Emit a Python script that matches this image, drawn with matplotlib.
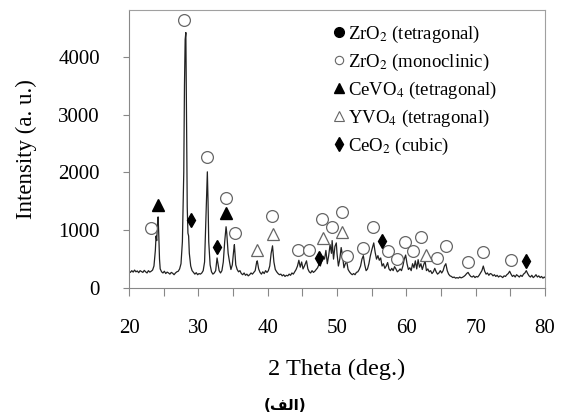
import matplotlib
matplotlib.use('Agg')
import matplotlib.pyplot as plt
from matplotlib.lines import Line2D

plt.rcParams['font.family'] = ['Liberation Serif', 'DejaVu Serif']
plt.rcParams['mathtext.fontset'] = 'stix'

# XRD trace: (2 theta, intensity)
trace = [
    (20.0, 290), (20.2, 270), (20.4, 300), (20.6, 275), (20.8, 310), (21.0, 280),
    (21.2, 295), (21.4, 265), (21.6, 300), (21.8, 285), (22.0, 270), (22.2, 305),
    (22.4, 280), (22.6, 260), (22.8, 300), (23.0, 275), (23.2, 290), (23.4, 310),
    (23.6, 380), (23.8, 650), (23.9, 900), (24.0, 820), (24.1, 1100), (24.2, 1230),
    (24.3, 900), (24.4, 500), (24.5, 330), (24.7, 280), (24.9, 260), (25.1, 290),
    (25.3, 250), (25.5, 275), (25.7, 260), (25.9, 240), (26.1, 270), (26.3, 255),
    (26.5, 230), (26.7, 260), (26.9, 280), (27.1, 290), (27.3, 330), (27.5, 420),
    (27.7, 800), (27.9, 2000), (28.0, 3500), (28.1, 4300), (28.2, 4420), (28.3, 3000),
    (28.4, 1400), (28.5, 950), (28.6, 900), (28.7, 600), (28.9, 380), (29.1, 300),
    (29.3, 270), (29.5, 240), (29.7, 265), (29.9, 230), (30.1, 250), (30.3, 240),
    (30.5, 260), (30.7, 300), (30.9, 450), (31.1, 1200), (31.3, 2010), (31.4, 1500),
    (31.5, 800), (31.7, 400), (31.9, 280), (32.1, 240), (32.3, 260), (32.5, 300),
    (32.7, 520), (32.8, 450), (33.0, 300), (33.2, 260), (33.4, 300), (33.6, 450),
    (33.8, 800), (34.0, 1060), (34.1, 950), (34.3, 600), (34.5, 450), (34.7, 320),
    (34.9, 400), (35.1, 650), (35.2, 750), (35.4, 400), (35.6, 320), (35.8, 280),
    (36.0, 300), (36.2, 250), (36.4, 230), (36.6, 260), (36.8, 220), (37.0, 240),
    (37.2, 210), (37.4, 230), (37.6, 260), (37.8, 240), (38.0, 270), (38.2, 300),
    (38.4, 440), (38.5, 470), (38.7, 330), (38.9, 270), (39.1, 240), (39.3, 280),
    (39.5, 250), (39.7, 300), (39.9, 270), (40.1, 300), (40.3, 380), (40.5, 600),
    (40.7, 730), (40.9, 450), (41.1, 320), (41.3, 280), (41.5, 250), (41.7, 230),
    (41.9, 240), (42.1, 210), (42.3, 230), (42.5, 200), (42.7, 220), (42.9, 210),
    (43.1, 240), (43.3, 220), (43.5, 260), (43.7, 240), (43.9, 280), (44.1, 320),
    (44.3, 380), (44.5, 480), (44.7, 360), (44.9, 450), (45.1, 330), (45.3, 380),
    (45.6, 470), (45.8, 330), (46.0, 280), (46.2, 260), (46.4, 300), (46.6, 270),
    (46.8, 290), (47.0, 320), (47.2, 350), (47.4, 410), (47.6, 380), (47.8, 470),
    (48.0, 550), (48.2, 500), (48.4, 650), (48.6, 420), (48.8, 560), (49.0, 750),
    (49.2, 600), (49.3, 820), (49.5, 500), (49.7, 720), (49.9, 780), (50.0, 600),
    (50.2, 380), (50.4, 500), (50.6, 700), (50.8, 560), (51.0, 350), (51.2, 420),
    (51.4, 460), (51.6, 320), (51.8, 280), (52.0, 250), (52.2, 230), (52.4, 250),
    (52.6, 230), (52.8, 270), (53.0, 280), (53.2, 320), (53.4, 380), (53.6, 500),
    (53.8, 560), (54.0, 400), (54.2, 300), (54.4, 330), (54.6, 420), (54.8, 550),
    (55.0, 650), (55.3, 780), (55.5, 620), (55.7, 500), (55.9, 560), (56.1, 480),
    (56.3, 520), (56.5, 380), (56.7, 420), (56.9, 340), (57.1, 380), (57.3, 440),
    (57.5, 330), (57.7, 300), (57.9, 340), (58.1, 300), (58.3, 370), (58.5, 330),
    (58.7, 280), (58.9, 300), (59.1, 330), (59.3, 300), (59.5, 380), (59.7, 500),
    (59.9, 570), (60.1, 420), (60.3, 320), (60.5, 350), (60.7, 300), (60.9, 420),
    (61.1, 350), (61.3, 470), (61.5, 330), (61.7, 490), (61.9, 360), (62.1, 420),
    (62.3, 320), (62.5, 400), (62.7, 470), (62.9, 300), (63.1, 330), (63.3, 280),
    (63.5, 300), (63.7, 250), (63.9, 280), (64.1, 340), (64.3, 280), (64.5, 240),
    (64.7, 260), (64.9, 300), (65.1, 260), (65.3, 300), (65.5, 380), (65.7, 420),
    (65.9, 300), (66.1, 240), (66.3, 210), (66.5, 200), (66.7, 180), (66.9, 190),
    (67.1, 170), (67.3, 180), (67.5, 170), (67.7, 190), (67.9, 175), (68.1, 185),
    (68.3, 200), (68.5, 220), (68.7, 250), (68.9, 270), (69.1, 230), (69.3, 200),
    (69.5, 190), (69.7, 210), (69.9, 180), (70.1, 200), (70.3, 190), (70.5, 220),
    (70.7, 260), (70.9, 300), (71.1, 380), (71.3, 290), (71.5, 240), (71.7, 260),
    (71.9, 220), (72.1, 250), (72.3, 240), (72.5, 210), (72.7, 230), (72.9, 200),
    (73.1, 220), (73.3, 190), (73.5, 210), (73.7, 200), (73.9, 180), (74.1, 210),
    (74.3, 200), (74.5, 230), (74.7, 250), (74.9, 290), (75.1, 240), (75.3, 200),
    (75.5, 220), (75.7, 190), (75.9, 230), (76.1, 210), (76.3, 190), (76.5, 220),
    (76.7, 200), (76.9, 240), (77.1, 260), (77.3, 300), (77.5, 250), (77.7, 210),
    (77.9, 190), (78.1, 220), (78.3, 180), (78.5, 200), (78.7, 230), (78.9, 190),
    (79.1, 210), (79.3, 180), (79.5, 200), (79.7, 170), (79.9, 190), (80.0, 180),
]
two_theta = [p[0] for p in trace]
intensity = [p[1] for p in trace]

# phase markers (2 theta, y position)
zro2_mono_x = [23.2, 27.9, 31.25, 34.0, 35.3, 40.6, 44.4, 46.0, 47.9, 49.3, 50.7, 51.4,
               53.75, 55.2, 57.35, 58.65, 59.8, 61.0, 62.1, 64.4, 65.7, 68.9, 71.1, 75.1]
zro2_mono_y = [1030, 4640, 2260, 1565, 960, 1250, 660, 660, 1200, 1060, 1310, 560,
               700, 1050, 640, 505, 800, 640, 890, 520, 730, 450, 615, 490]
cevo4_x = [24.2, 34.0]
cevo4_y = [1440, 1290]
yvo4_x = [38.5, 40.7, 48.0, 50.7, 62.9]
yvo4_y = [660, 940, 870, 970, 570]
ceo2_x = [29.0, 32.7, 47.45, 56.45, 77.25]
ceo2_y = [1180, 710, 520, 820, 470]

legend_labels = ['ZrO$_2$ (tetragonal)', 'ZrO$_2$ (monoclinic)', 'CeVO$_4$ (tetragonal)',
                 'YVO$_4$ (tetragonal)', 'CeO$_2$ (cubic)']

fig = plt.figure(figsize=(5.61, 4.16), dpi=100)
ax = fig.add_axes([129 / 561, 1 - 288 / 416, 416 / 561, 278 / 416])

ax.plot(two_theta, intensity, color='#222222', lw=0.9)

grey = '#666666'
ax.plot(zro2_mono_x, zro2_mono_y, 'o', ls='none', ms=8.5, mfc='white', mec=grey, mew=0.9)
ax.plot(cevo4_x, cevo4_y, '^', ls='none', ms=9, color='black')
ax.plot(yvo4_x, yvo4_y, '^', ls='none', ms=9, mfc='white', mec=grey, mew=0.9)
ax.plot(ceo2_x, ceo2_y, 'd', ls='none', ms=7.5, color='black')

ax.set_xlim(20, 80)
ax.set_ylim(0, 4810)
ax.set_xticks(range(20, 81, 10))
ax.set_xticks(range(25, 80, 10), minor=True)
ax.set_yticks(range(0, 4001, 1000))

for s in ['top', 'right']:
    ax.spines[s].set_color('#a0a0a0')
for s in ['left', 'bottom']:
    ax.spines[s].set_color('#888888')
ax.tick_params(axis='x', which='both', direction='out', length=6, width=0.8,
               color='#888888', labelsize=15, pad=16)
ax.tick_params(axis='y', which='major', direction='out', length=4.5, width=0.8,
               color='#888888', labelsize=15, pad=16.5)

ax.set_xlabel('2 Theta (deg.)', fontsize=17.5)
ax.xaxis.set_label_coords(0.5, -0.255)
ax.set_ylabel('Intensity (a. u.)', fontsize=16.5)
ax.yaxis.set_label_coords(-0.22, 0.5)

handles = [
    Line2D([], [], marker='o', ls='none', ms=7, color='black'),
    Line2D([], [], marker='o', ls='none', ms=6, mfc='white', mec=grey, mew=0.8),
    Line2D([], [], marker='^', ls='none', ms=7, color='black'),
    Line2D([], [], marker='^', ls='none', ms=7, mfc='white', mec=grey, mew=0.8),
    Line2D([], [], marker='d', ls='none', ms=7, color='black'),
]
ax.legend(handles, legend_labels, loc='upper left', bbox_to_anchor=(0.488, 0.95),
          frameon=False, fontsize=13.5, handlelength=0.7, handletextpad=0.15,
          labelspacing=0.36, borderpad=0, borderaxespad=0)

# caption below the chart, (الف)
fig.text(285 / 561, 1 - 405 / 416, '(\ufed2\ufedf\ufe8d)', ha='center', va='center',
         fontsize=11, fontweight='bold', family='DejaVu Sans')

fig.savefig('out.png', dpi=100)
